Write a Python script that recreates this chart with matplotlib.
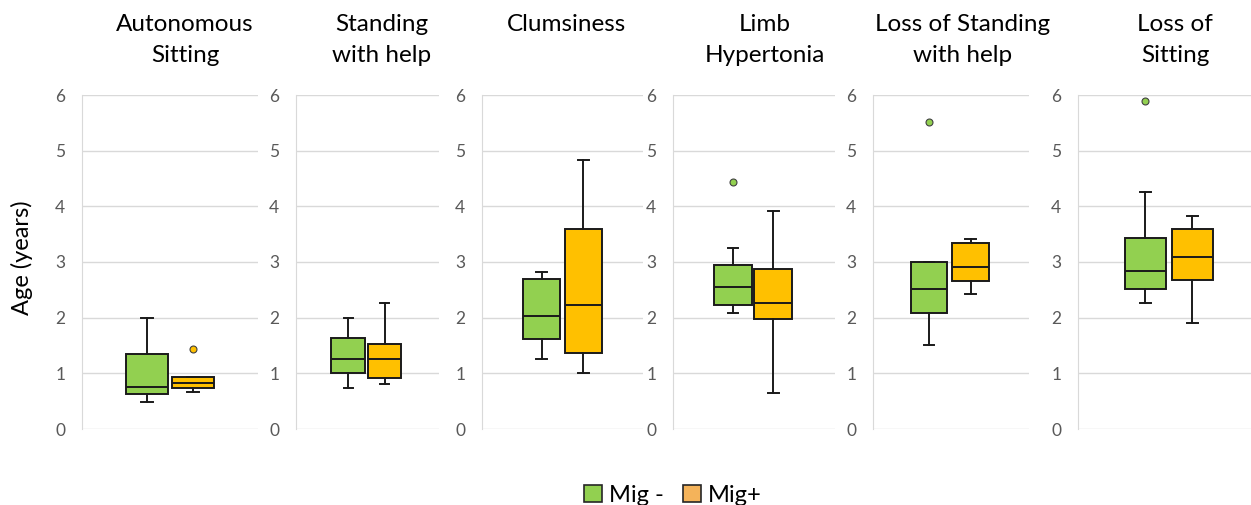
import matplotlib
matplotlib.use("Agg")
import matplotlib.pyplot as plt
from matplotlib.patches import Patch

plt.rcParams['font.family'] = ['Lato', 'DejaVu Sans']

titles = ["Autonomous\nSitting", "Standing\nwith help", "Clumsiness",
          "Limb\nHypertonia", "Loss of Standing\nwith help", "Loss of\nSitting"]
series = ["Mig -", "Mig+"]

# [whislo, q1, med, q3, whishi]
mig_minus = [
    [0.49, 0.62, 0.75, 1.34, 2.00],
    [0.74, 1.00, 1.26, 1.64, 2.00],
    [1.26, 1.61, 2.03, 2.70, 2.82],
    [2.09, 2.22, 2.55, 2.94, 3.25],
    [1.51, 2.08, 2.51, 3.00, 3.00],
    [2.26, 2.51, 2.83, 3.43, 4.25],
]
mig_plus = [
    [0.66, 0.74, 0.83, 0.93, 0.93],
    [0.81, 0.91, 1.26, 1.52, 2.26],
    [1.00, 1.36, 2.23, 3.59, 4.84],
    [0.65, 1.98, 2.26, 2.88, 3.91],
    [2.42, 2.65, 2.91, 3.34, 3.42],
    [1.91, 2.68, 3.09, 3.60, 3.82],
]
outliers_minus = [[], [], [], [4.43], [5.51], [5.90]]
outliers_plus = [[1.43], [], [], [], [], []]

y_ticks = [0, 1, 2, 3, 4, 5, 6]

colors = ["#92D050", "#FFC000"]
legend_colors = ["#92D050", "#F4B35A"]

W, H = 1251, 505
fig = plt.figure(figsize=(W / 100, H / 100), dpi=100)

panels = [(82, 258), (296, 439), (482, 643), (673, 835), (873, 1029), (1078, 1251)]
title_x = [185, 382, 567, 765, 963, 1175]
top_px, bot_px = 95, 429
centers = [[0.37, 0.63], [0.365, 0.62], [0.37, 0.63], [0.37, 0.62], [0.36, 0.625], [0.39, 0.66]]

def stats(v, fl):
    return dict(whislo=v[0], q1=v[1], med=v[2], q3=v[3], whishi=v[4], fliers=fl)

for i, (l, r) in enumerate(panels):
    ax = fig.add_axes([l / W, 1 - bot_px / H, (r - l) / W, (bot_px - top_px) / H])
    for j, (vals, fls) in enumerate([(mig_minus, outliers_minus), (mig_plus, outliers_plus)]):
        ax.bxp([stats(vals[i], fls[i])], positions=[centers[i][j]], widths=0.235,
               capwidths=0.065, patch_artist=True, manage_ticks=False,
               boxprops=dict(facecolor=colors[j], edgecolor="#1a1a1a", linewidth=1.4),
               medianprops=dict(color="#1a1a1a", linewidth=1.4),
               whiskerprops=dict(color="#1a1a1a", linewidth=1.4),
               capprops=dict(color="#1a1a1a", linewidth=1.4),
               flierprops=dict(marker="o", markersize=5, markerfacecolor=colors[j],
                               markeredgecolor="#404040", markeredgewidth=0.8))
    ax.set_xlim(0, 1)
    ax.set_ylim(0, 6)
    ax.set_yticks(y_ticks)
    ax.set_xticks([])
    ax.grid(axis="y", color="#D9D9D9", linewidth=1)
    ax.set_axisbelow(True)
    for s in ["top", "right", "bottom"]:
        ax.spines[s].set_visible(False)
    ax.spines["left"].set_color("#D9D9D9")
    ax.tick_params(axis="y", length=0, pad=12, labelsize=12.5, labelcolor="#595959")
    ax.patch.set_alpha(0)
    fig.text(title_x[i] / W, 1 - 14 / H, titles[i], ha="center", va="top",
             fontsize=17.5, color="black", linespacing=1.6)

fig.text(22 / W, 1 - 258 / H, "Age (years)", rotation=90, ha="center", va="center",
         fontsize=17, color="black")

handles = [Patch(facecolor=legend_colors[k], edgecolor="#262626", linewidth=1.2, label=series[k])
           for k in range(2)]
fig.legend(handles=handles, loc="center", bbox_to_anchor=(673 / W, 1 - 495 / H), ncol=2,
           frameon=False, fontsize=17, handlelength=0.75, handleheight=0.75,
           handletextpad=0.3, columnspacing=0.8)

fig.savefig("out.png", dpi=100)
